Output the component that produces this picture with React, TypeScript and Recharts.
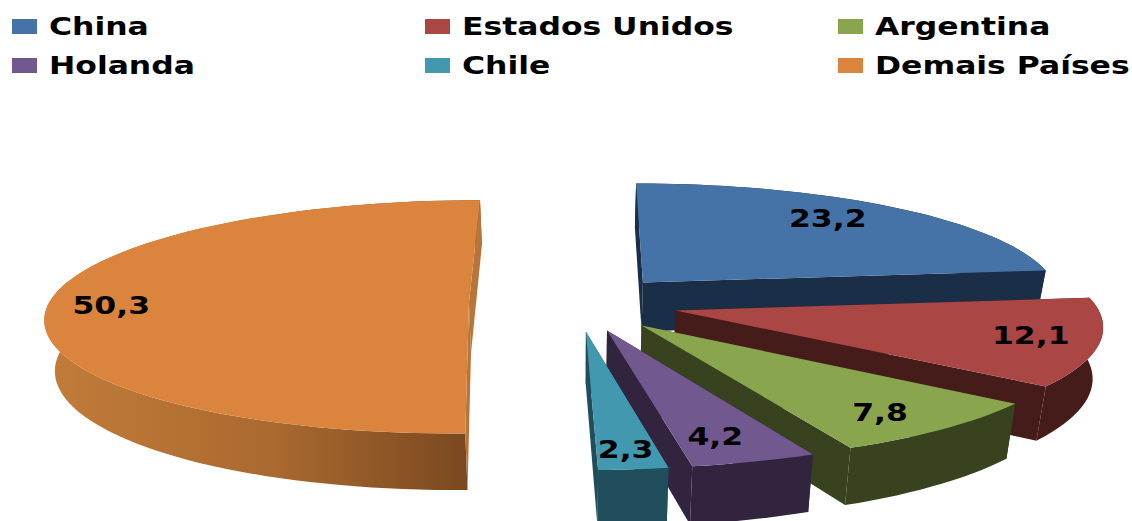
import React from 'react';
import { PieChart, Pie, Legend } from 'recharts';

const countries = ['China', 'Estados Unidos', 'Argentina', 'Holanda', 'Chile', 'Demais Países'];
const shares = [23.2, 12.1, 7.8, 4.2, 2.3, 50.3];
const topColors = ['#4572A7', '#AA4643', '#89A54E', '#71588F', '#4198AF', '#DB843D'];
const wallColors = ['#1B2E47', '#461C1A', '#39421F', '#32243F', '#214E5C', 'url(#rimOrange)'];
const cutColors = ['#1B2E47', '#461C1A', '#39421F', '#32243F', '#214E5C', '#B8753A'];
// slice offset from the pie centre, in radii
const explodes = [0.244, 0.244, 0.244, 0.244, 0.244, 0.255];
// how far along its radius each value label sits, plus a small pixel nudge
const labelReach = [0.66, 0.86, 0.8, 0.77, 0.89, 0.85];
const labelNudgeX = [17, -8, 1, -2, -2, 0];
const labelNudgeY = [-13, -3, 6, 7, -3, 1];

const rows = countries.map((name, i) => ({
  name,
  value: shares[i],
  fill: topColors[i],
  wall: wallColors[i],
  cut: cutColors[i],
  explode: explodes[i],
  reach: labelReach[i],
  nudgeX: labelNudgeX[i],
  nudgeY: labelNudgeY[i],
}));

const WIDTH = 1132;
const HEIGHT = 521;
const CX = 576;
const CY = 303;
const RADIUS = 420;
const TILT = 115 / RADIUS; // vertical squash of the disk
const PERSPECTIVE = 0.116;
const DEPTH = 50;
const FLOOR_SCALE = 0.98;

const RAD = Math.PI / 180;

type Pt = [number, number];

// Disk coordinates (u right, v away from the viewer, unit radius) to screen.
function project(cx: number, cy: number, r: number, u: number, v: number): Pt {
  const s = 1 / (1 + PERSPECTIVE * v);
  return [cx + r * u * s, cy - r * TILT * v * s];
}

function floorOf(cx: number, p: Pt, v: number): Pt {
  return [cx + (p[0] - cx) * FLOOR_SCALE, p[1] + DEPTH / (1 + PERSPECTIVE * v)];
}

const toPath = (pts: Pt[]) =>
  'M' + pts.map((p) => `${p[0].toFixed(1)},${p[1].toFixed(1)}`).join('L') + 'Z';

function SliceShape(props: any) {
  const { cx, cy, outerRadius, startAngle, endAngle, fill, payload } = props;
  const r = outerRadius;
  const mid = ((startAngle + endAngle) / 2) * RAD;
  const ou = payload.explode * Math.cos(mid);
  const ov = payload.explode * Math.sin(mid);

  const steps = Math.max(8, Math.ceil(Math.abs(startAngle - endAngle) / 2));
  const rim: { p: Pt; v: number }[] = [];
  for (let i = 0; i <= steps; i++) {
    const a = (startAngle + ((endAngle - startAngle) * i) / steps) * RAD;
    const u = ou + Math.cos(a);
    const v = ov + Math.sin(a);
    rim.push({ p: project(cx, cy, r, u, v), v });
  }
  const apex = project(cx, cy, r, ou, ov);
  const apexFloor = floorOf(cx, apex, ov);

  const first = rim[0];
  const last = rim[rim.length - 1];
  const cutA = [apex, first.p, floorOf(cx, first.p, first.v), apexFloor];
  const cutB = [apex, last.p, floorOf(cx, last.p, last.v), apexFloor];
  const wall = [
    ...rim.map((q) => q.p),
    ...rim
      .slice()
      .reverse()
      .map((q) => floorOf(cx, q.p, q.v)),
  ];
  const top = [apex, ...rim.map((q) => q.p)];

  return (
    <g>
      <path d={toPath(wall)} fill={payload.wall} />
      <path d={toPath(cutA)} fill={payload.cut} />
      <path d={toPath(cutB)} fill={payload.cut} />
      <path d={toPath(top)} fill={fill} />
    </g>
  );
}

function ValueLabel(props: any) {
  const { cx, cy, outerRadius, midAngle, payload } = props;
  const a = midAngle * RAD;
  const u = Math.cos(a);
  const v = Math.sin(a);
  const [x, y] = project(
    cx,
    cy,
    outerRadius,
    (payload.explode + payload.reach) * u,
    (payload.explode + payload.reach) * v,
  );
  return (
    <text
      transform={`translate(${x + payload.nudgeX},${y + 9 + payload.nudgeY}) scale(1.31,1)`}
      textAnchor="middle"
      fontFamily="DejaVu Sans"
      fontWeight="bold"
      fontSize={24}
      fill="#000"
    >
      {String(payload.value).replace('.', ',')}
    </text>
  );
}

const legendColumns = [12, 425, 838];
const legendRows = [19, 58];

function LegendBlock() {
  return (
    <svg width={WIDTH} height={90} style={{ display: 'block' }}>
      {rows.map((row, i) => {
        const x = legendColumns[i % 3];
        const y = legendRows[Math.floor(i / 3)];
        return (
          <g key={row.name}>
            <rect x={x} y={y} width={25} height={15} fill={row.fill} />
            <text
              transform={`translate(${x + 37},${y + 16}) scale(1.31,1)`}
              fontFamily="DejaVu Sans"
              fontWeight="bold"
              fontSize={24}
              fill="#000"
            >
              {row.name}
            </text>
          </g>
        );
      })}
    </svg>
  );
}

export default function App() {
  return (
    <div style={{ position: 'absolute', left: 0, top: 0, width: WIDTH, height: HEIGHT, overflow: 'hidden' }}>
      <PieChart width={WIDTH} height={HEIGHT} margin={{ top: 0, right: 0, bottom: 0, left: 0 }}>
        <defs>
          <linearGradient id="rimOrange" gradientUnits="userSpaceOnUse" x1={45} y1={0} x2={465} y2={0}>
            <stop offset="0" stopColor="#C27C3A" />
            <stop offset="0.55" stopColor="#A9692F" />
            <stop offset="1" stopColor="#7B4920" />
          </linearGradient>
        </defs>
        <Legend
          content={<LegendBlock />}
          wrapperStyle={{ position: 'absolute', left: 0, top: 0, width: WIDTH, height: 90 }}
        />
        <Pie
          data={rows}
          dataKey="value"
          nameKey="name"
          cx={CX}
          cy={CY}
          innerRadius={0}
          outerRadius={RADIUS}
          startAngle={90}
          endAngle={-270}
          stroke="none"
          isAnimationActive={false}
          shape={SliceShape}
          label={ValueLabel}
          labelLine={false}
        />
      </PieChart>
    </div>
  );
}
